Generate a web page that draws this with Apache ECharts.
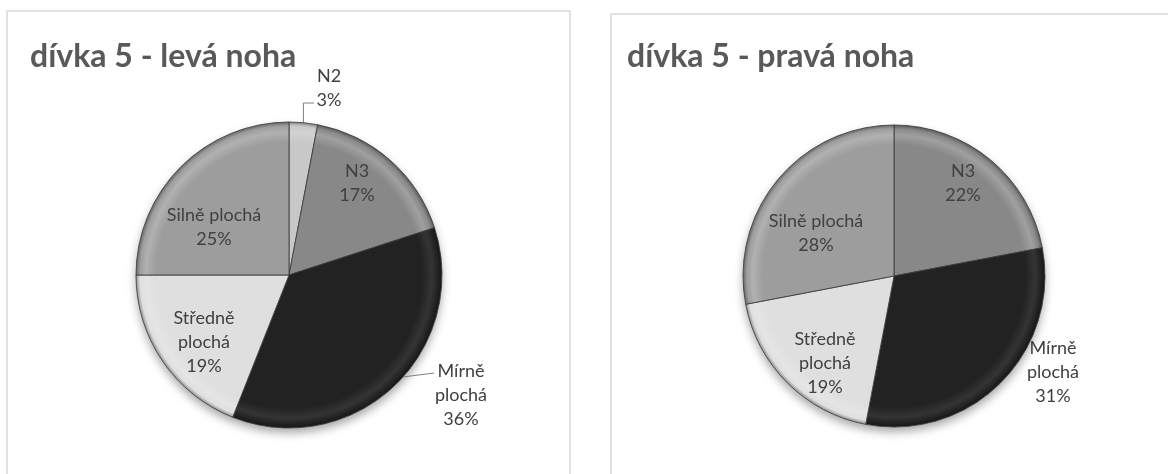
<!DOCTYPE html>
<html>
<head>
<meta charset="utf-8">
<script src="https://cdn.jsdelivr.net/npm/echarts@6/dist/echarts.min.js"></script>
<style>
  html, body { margin: 0; padding: 0; background: #ffffff; }
  #chart { width: 1168px; height: 474px; }
</style>
</head>
<body>
<div id="chart"></div>
<script>
// ---- data -------------------------------------------------------------
const titles = ['dívka 5 - levá noha', 'dívka 5 - pravá noha'];

const leftCategories = ['N2', 'N3', 'Mírně plochá', 'Středně plochá', 'Silně plochá'];
const leftValues = [3, 17, 36, 19, 25];

const rightCategories = ['N3', 'Mírně plochá', 'Středně plochá', 'Silně plochá'];
const rightValues = [22, 31, 19, 28];

// ---- styling ----------------------------------------------------------
const sliceColors = {
  'N2': '#c8c8c8',
  'N3': '#888888',
  'Mírně plochá': '#222222',
  'Středně plochá': '#dfdfdf',
  'Silně plochá': '#9d9d9d'
};

// pie geometry (pixels) and frame boxes
const pies = [
  { cx: 289, cy: 275, r: 153, titleX: 30, box: [7, 11, 563, 480] },
  { cx: 894, cy: 276, r: 151, titleX: 627, box: [611, 14, 600, 480] }
];

// label placement: offset of the label block from the pie centre
const labelSpots = [
  {
    'N2': { dx: 40, dy: -187, outside: true, guide: 'up' },
    'N3': { dx: 68, dy: -92 },
    'Mírně plochá': { dx: 172, dy: 120, wrap: true, outside: true, guide: 'side' },
    'Středně plochá': { dx: -85, dy: 67, wrap: true },
    'Silně plochá': { dx: -75, dy: -48 }
  },
  {
    'N3': { dx: 69, dy: -93 },
    'Mírně plochá': { dx: 159, dy: 96, wrap: true },
    'Středně plochá': { dx: -69, dy: 87, wrap: true },
    'Silně plochá': { dx: -78, dy: -43 }
  }
];

const labelFont = 'Lato, "Open Sans", sans-serif';

function hexToRgb(h) {
  const n = parseInt(h.slice(1), 16);
  return [(n >> 16) & 255, (n >> 8) & 255, n & 255];
}
function mix(h, target, t) {
  const c = hexToRgb(h);
  return 'rgb(' + c.map(v => Math.round(v + (target - v) * t)).join(',') + ')';
}

// rounded-bevel look: flat body, light rim, dark outer edge
function bevelFill(hex, p) {
  const dark = hexToRgb(hex)[0] < 80;
  return {
    type: 'radial', x: p.cx, y: p.cy, r: p.r, global: true,
    colorStops: [
      { offset: 0, color: hex },
      { offset: 0.87, color: hex },
      { offset: 0.935, color: mix(hex, 255, dark ? 0.08 : 0.2) },
      { offset: 0.975, color: hex },
      { offset: 1, color: mix(hex, 0, 0.35) }
    ]
  };
}

function polar(p, angleDeg, rad) {
  const a = angleDeg * Math.PI / 180;
  return [p.cx + rad * Math.sin(a), p.cy - rad * Math.cos(a)];
}

function buildSeries(idx, cats, vals) {
  const p = pies[idx];
  const spots = labelSpots[idx];
  const total = vals.reduce((s, v) => s + v, 0);
  // mid angle of each slice (clockwise from 12 o'clock)
  const mids = [];
  let acc = 0;
  vals.forEach(v => { mids.push((acc + v / 2) / total * 360); acc += v; });

  const data = cats.map((name, i) => {
    const s = spots[name];
    return {
      name: name,
      value: vals[i],
      itemStyle: { color: bevelFill(sliceColors[name], p) },
      label: { position: s.outside ? 'outside' : 'inside' },
      labelLine: { show: !!s.guide }
    };
  });

  return [
    {
      // soft drop shadow under the whole pie
      type: 'pie', silent: true, z: 1,
      center: [p.cx, p.cy], radius: p.r,
      label: { show: false }, labelLine: { show: false },
      itemStyle: { color: '#ffffff', shadowBlur: 10, shadowOffsetY: 5, shadowColor: 'rgba(0,0,0,0.35)' },
      data: [{ value: 1, name: '' }]
    },
    {
      type: 'pie', z: 2,
      center: [p.cx, p.cy], radius: p.r,
      startAngle: 90, clockwise: true,
      avoidLabelOverlap: false,
      itemStyle: { borderColor: 'rgba(60,60,60,0.85)', borderWidth: 1 },
      emphasis: { disabled: true },
      label: {
        show: true,
        fontFamily: labelFont,
        fontSize: 18,
        lineHeight: 24,
        color: '#404040',
        align: 'center',
        formatter: function (prm) {
          const s = spots[prm.name];
          const nm = s.wrap ? prm.name.replace(' ', '\n') : prm.name;
          return nm + '\n' + Math.round(prm.percent) + '%';
        }
      },
      labelLine: { lineStyle: { color: '#7f7f7f', width: 1 } },
      labelLayout: function (prm) {
        const name = cats[prm.dataIndex];
        const s = spots[name];
        const x = p.cx + s.dx, y = p.cy + s.dy;
        const out = { x: x, y: y, align: 'center', verticalAlign: 'middle' };
        if (s.guide === 'up') {
          const e = polar(p, mids[prm.dataIndex], p.r);
          out.labelLinePoints = [e, [e[0], y + 15], [x - 15, y + 15]];
        } else if (s.guide === 'side') {
          const e = polar(p, mids[prm.dataIndex] - 5, p.r);
          out.labelLinePoints = [e, [(e[0] + x - 27) / 2, (e[1] + y - 22) / 2], [x - 27, y - 22]];
        }
        return out;
      },
      data: data
    }
  ];
}

const chart = echarts.init(document.getElementById('chart'), null, { renderer: 'canvas' });

chart.setOption({
  backgroundColor: '#ffffff',
  animation: false,
  title: pies.map((p, i) => ({
    text: titles[i],
    left: p.titleX,
    top: 41,
    padding: 0,
    textStyle: { fontFamily: labelFont, fontWeight: 'bold', fontSize: 32, color: '#595959' }
  })),
  graphic: pies.map(p => ({
    type: 'rect', silent: true, z: 0,
    shape: { x: p.box[0], y: p.box[1], width: p.box[2], height: p.box[3] },
    style: { fill: 'none', stroke: '#d9d9d9', lineWidth: 1.5 }
  })),
  series: [].concat(
    buildSeries(0, leftCategories, leftValues),
    buildSeries(1, rightCategories, rightValues)
  )
});
</script>
</body>
</html>
